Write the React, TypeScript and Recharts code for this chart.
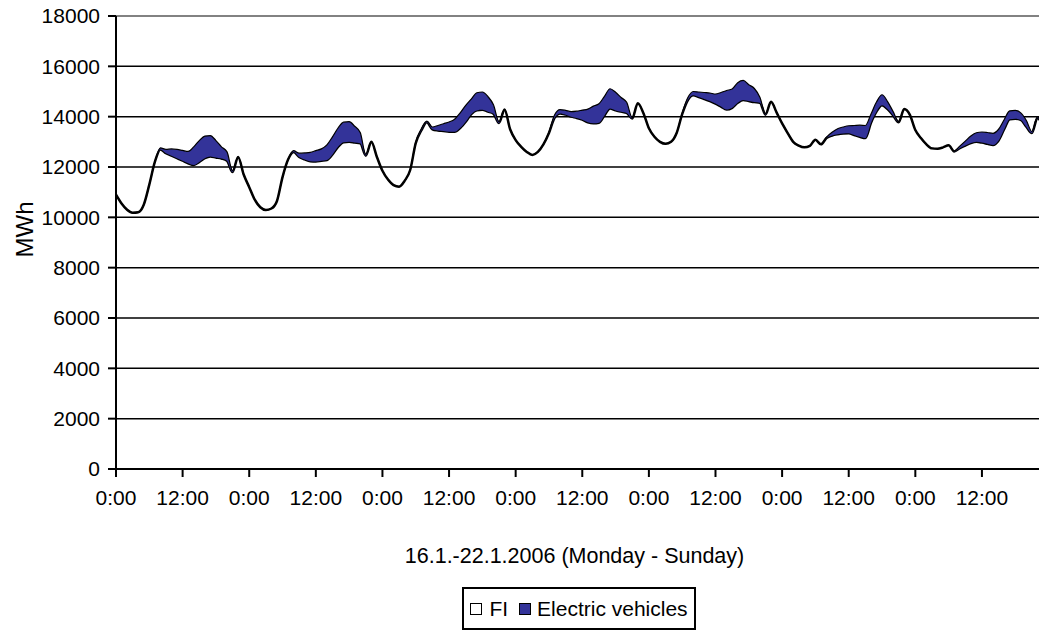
import { AreaChart, Area, XAxis, YAxis, CartesianGrid, Legend, ReferenceLine, Label } from 'recharts';

const FONT = '"Liberation Sans", Arial, sans-serif';

// hourly load, 16.1.-22.1.2006, one row of 24 per day
const fiLoad = [
  10900, 10550, 10300, 10180, 10200, 10500, 11300, 12200, 12700, 12550, 12450, 12350, 12250, 12150, 12080, 12200, 12350, 12420, 12380, 12340, 12250, 11800, 12400, 11700,
  11200, 10700, 10400, 10290, 10350, 10650, 11600, 12300, 12600, 12400, 12300, 12230, 12220, 12250, 12280, 12500, 12800, 12980, 13000, 12970, 12940, 12450, 13000, 12400,
  11850, 11500, 11280, 11220, 11450, 11880, 12950, 13450, 13780, 13500, 13450, 13430, 13400, 13400, 13550, 13800, 14100, 14250, 14270, 14200, 14120, 13750, 14280, 13500,
  13070, 12800, 12600, 12480, 12600, 12900, 13350, 13950, 14130, 14080, 14000, 13950, 13880, 13780, 13740, 13760, 14050, 14320, 14250, 14200, 14150, 13930, 14530, 14150,
  13540, 13200, 13000, 12920, 13000, 13350, 14100, 14650, 14850, 14780, 14700, 14620, 14520, 14400, 14280, 14350, 14550, 14660, 14620, 14580, 14550, 14080, 14590, 14170,
  13730, 13350, 13000, 12850, 12780, 12840, 13080, 12900, 13150, 13250, 13300, 13330, 13340, 13270, 13200, 13150, 13750, 14200, 14450, 14300, 14050, 13780, 14300, 14080,
  13470, 13150, 12900, 12740, 12730, 12780, 12860, 12620, 12750, 12850, 12950, 13000, 12970, 12920, 12870, 13050, 13500, 13900, 13920, 13870, 13600, 13350, 13950, 13600,
];

const evLoad = [
  0, 0, 0, 0, 0, 0, 0, 0, 60, 150, 270, 350, 410, 470, 720, 850, 880, 830, 670, 460, 350, 50, 0, 0,
  0, 0, 0, 0, 0, 0, 0, 0, 50, 150, 260, 350, 430, 470, 600, 700, 750, 800, 800, 650, 430, 50, 0, 0,
  0, 0, 0, 0, 0, 0, 40, 60, 40, 90, 200, 290, 390, 500, 600, 650, 600, 700, 710, 600, 350, 50, 0, 0,
  0, 0, 0, 0, 0, 0, 30, 120, 150, 170, 200, 270, 380, 520, 680, 750, 760, 790, 720, 560, 420, 30, 0, 0,
  0, 0, 0, 0, 0, 0, 40, 100, 150, 200, 260, 320, 380, 560, 760, 750, 800, 780, 650, 540, 220, 30, 0, 0,
  0, 0, 0, 0, 0, 0, 0, 0, 40, 130, 220, 260, 300, 380, 460, 500, 350, 380, 420, 300, 150, 20, 0, 0,
  0, 0, 0, 0, 0, 0, 0, 10, 80, 180, 280, 360, 420, 450, 470, 450, 380, 330, 330, 280, 250, 60, 40, 30,
];

const yTicks = [0, 2000, 4000, 6000, 8000, 10000, 12000, 14000, 16000, 18000];
const timeLabels = ['0:00', '12:00'];

const data = fiLoad.map((fi, i) => ({ hour: i, fi, ev: evLoad[i] }));

const tickStyle = { fill: '#000', fontSize: 21, fontFamily: FONT };

function LegendBox() {
  const box = { display: 'inline-block', width: 10, height: 10, border: '1.5px solid #000' };
  return (
    <div
      style={{
        boxSizing: 'border-box',
        width: 234,
        height: 43,
        border: '2px solid #000',
        background: '#fff',
        display: 'flex',
        alignItems: 'center',
        justifyContent: 'center',
        fontFamily: FONT,
        fontSize: 21,
        color: '#000',
      }}
    >
      <span style={{ ...box, background: '#fff', marginRight: 7 }} />
      <span style={{ marginRight: 11 }}>FI</span>
      <span style={{ ...box, background: '#333399', marginRight: 6 }} />
      <span>Electric vehicles</span>
    </div>
  );
}

export default function App() {
  // pulled up a little so the top tick label has room inside the svg
  return (
    <div style={{ width: 1039, height: 626, marginTop: -4, fontFamily: FONT }}>
      <AreaChart width={1039} height={626} data={data} margin={{ top: 12, right: 4, left: 0, bottom: 0 }}>
        <CartesianGrid vertical={false} stroke="#000" strokeWidth={1.5} />
        <XAxis
          dataKey="hour"
          interval={11}
          tickFormatter={(h: number) => timeLabels[(h % 24) / 12]}
          tickSize={8}
          tickMargin={13}
          height={118}
          stroke="#000"
          strokeWidth={2}
          tick={tickStyle}
        >
          <Label
            value="16.1.-22.1.2006 (Monday - Sunday)"
            position="insideBottom"
            offset={24}
            dx={-5}
            style={{ fill: '#000', fontSize: 21.5, fontFamily: FONT }}
          />
        </XAxis>
        <YAxis
          domain={[0, 18000]}
          ticks={yTicks}
          interval={0}
          width={108}
          tickSize={8}
          tickMargin={8}
          stroke="#000"
          strokeWidth={2}
          tick={tickStyle}
        >
          <Label
            value="MWh"
            angle={-90}
            position="insideLeft"
            offset={16}
            dy={-13}
            style={{ fill: '#000', fontSize: 24, fontFamily: FONT, textAnchor: 'middle' }}
          />
        </YAxis>
        <ReferenceLine y={18000} stroke="#999" strokeWidth={1.5} />
        <ReferenceLine x={167} stroke="#999" strokeWidth={1.5} />
        <Area
          type="monotone"
          dataKey="fi"
          name="FI"
          stackId="load"
          stroke="#000"
          strokeWidth={2.5}
          fill="none"
          isAnimationActive={false}
        />
        <Area
          type="monotone"
          dataKey="ev"
          name="Electric vehicles"
          stackId="load"
          stroke="#000"
          strokeWidth={1.2}
          fill="#333399"
          fillOpacity={1}
          isAnimationActive={false}
        />
        <Legend
          verticalAlign="bottom"
          wrapperStyle={{ left: 454, bottom: 0, width: 234, height: 43 }}
          content={() => <LegendBox />}
        />
      </AreaChart>
    </div>
  );
}
